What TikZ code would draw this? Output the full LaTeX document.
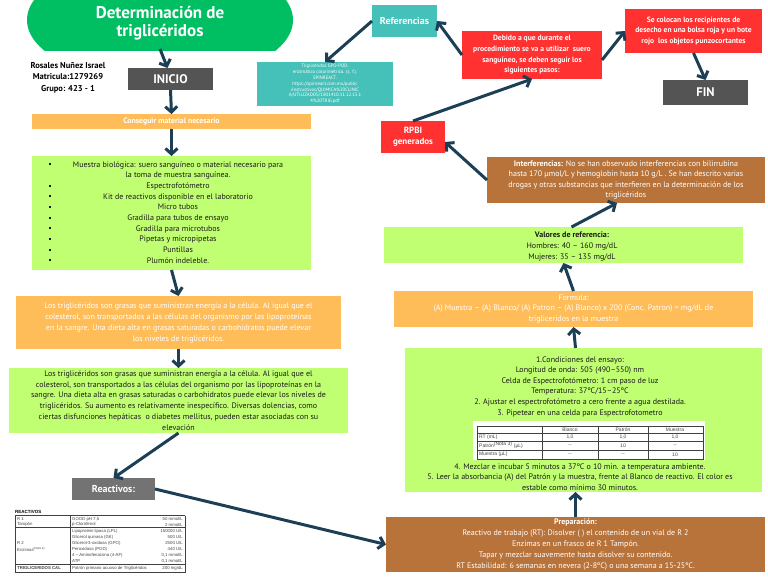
\documentclass[tikz,border=0pt]{standalone}
\usepackage{fontspec}
\setmainfont{PT Sans}
\newfontfamily\tabfont{Liberation Sans}
\usetikzlibrary{arrows.meta,calc}
\definecolor{tgreen}{HTML}{00BF63}
\definecolor{torange}{HTML}{FFBD59}
\definecolor{tlime}{HTML}{C1FF72}
\definecolor{tred}{HTML}{FF3131}
\definecolor{tcyan}{HTML}{45C1B9}
\definecolor{tbrown}{HTML}{B8733A}
\definecolor{tdark}{HTML}{545454}
\definecolor{tgray}{HTML}{737373}
\definecolor{tarrow}{HTML}{1C3F55}
\definecolor{ttext}{HTML}{1A1A1A}
\definecolor{tabtext}{HTML}{444444}
\newcommand\tbul{\raisebox{1.8pt}{\rule{2pt}{2pt}}}
\begin{document}
\begin{tikzpicture}[x=1pt,y=-1pt,
  box/.style={rectangle, inner sep=0pt, outer sep=0pt, align=center},
  arr/.style={draw=tarrow, line width=3pt, -{Straight Barb[length=5.5pt,width=12pt]}},
  wtxt/.style={text=white},
  dtxt/.style={text=ttext},
  tabtxt/.style={font=\tabfont\fontsize{4.3}{5}\selectfont, text=tabtext, inner sep=0pt},
  ptab/.style={font=\tabfont\fontsize{5}{6}\selectfont, text=tabtext, inner sep=0pt},
  tline/.style={draw=black!75, line width=0.4pt}]
\useasboundingbox (0,0) rectangle (768,576);
\fill[white] (0,0) rectangle (768,576);

% title
\begin{scope}
\clip (0,0) rectangle (768,50);
\fill[tgreen] (160,20) ellipse [x radius=133pt, y radius=62pt];
\end{scope}
\node[wtxt, font=\fontsize{17}{17.5}\selectfont\bfseries, align=center] (title) at (160,23) {Determinación de\\triglicéridos};
\coordinate (tbot) at (160,49);

\node[font=\fontsize{8.5}{11.5}\selectfont\bfseries, align=center, text=black] (name) at (68,77.5) {Rosales Nuñez Israel\\Matricula:1279269\\Grupo: 423 - 1};

% left column
\node[box, fill=tdark, minimum width=85pt, minimum height=22pt, wtxt, font=\fontsize{12.5}{14}\selectfont\bfseries] (inicio) at (170.5,79) {INICIO};
\node[box, fill=torange, minimum width=279pt, minimum height=15pt, wtxt, font=\fontsize{7.8}{9}\selectfont\bfseries] (conseguir) at (171.5,121.5) {Conseguir material necesario};

\node[box, fill=tlime, minimum width=279pt, minimum height=114pt] (list) at (171.5,213) {};
\node[dtxt, font=\fontsize{8}{10.65}\selectfont, align=center, inner sep=0pt] (listtext) at (178,213) {\strut Muestra biológica: suero sanguíneo o material necesario para\\la toma de muestra sanguínea.\\Espectrofotómetro\\Kit de reactivos disponible en el laboratorio\\Micro tubos\\Gradilla para tubos de ensayo\\Gradilla para microtubos\\Pipetas y micropipetas\\Puntillas\\Plumón indeleble.\strut};
\node[dtxt, font=\fontsize{8}{10.65}\selectfont, align=center, inner sep=0pt] (bul) at (50,213) {\strut\tbul\\~\\\tbul\\\tbul\\\tbul\\\tbul\\\tbul\\\tbul\\\tbul\\\tbul\strut};

\node[box, fill=torange, minimum width=325pt, minimum height=53pt, wtxt, font=\fontsize{8}{11}\selectfont] (orange2) at (178.5,322.5) {Los triglicéridos son grasas que suministran energía a la célula. Al igual que el\\colesterol, son transportados a las células del organismo por las lipoproteínas\\en la sangre. Una dieta alta en grasas saturadas o carbohidratos puede elevar\\los niveles de triglicéridos.};

\node[box, fill=tlime, minimum width=339pt, minimum height=65pt, dtxt, font=\fontsize{8}{10.8}\selectfont] (green2) at (178.5,400.5) {Los triglicéridos son grasas que suministran energía a la célula. Al igual que el\\colesterol, son transportados a las células del organismo por las lipoproteínas en la\\sangre. Una dieta alta en grasas saturadas o carbohidratos puede elevar los niveles de\\triglicéridos. Su aumento es relativamente inespecífico. Diversas dolencias, como\\ciertas disfunciones hepáticas\ \ o diabetes mellitus, pueden estar asociadas con su\\elevación};

\node[box, fill=tgray, minimum width=83pt, minimum height=22pt, wtxt, font=\fontsize{10}{12}\selectfont\bfseries] (reactivos) at (113.5,489) {Reactivos:};

% reactivos table
\node[tabtxt, anchor=west, font=\tabfont\bfseries\fontsize{4.5}{5}\selectfont, text=black] (rhead) at (15,512) {REACTIVOS};
\draw[tline, line width=0.8pt] (15,515.5) -- (185,515.5);
\draw[tline] (15,527.5) -- (185,527.5);
\draw[tline, line width=0.8pt] (15,564.5) -- (185,564.5);
\draw[tline] (15,572.5) -- (185,572.5);
\draw[tline] (15,515.5) -- (15,572.5);
\draw[tline] (70,515.5) -- (70,572.5);
\draw[tline] (185,515.5) -- (185,572.5);
\node[tabtxt, anchor=west] (r1a) at (17,519) {R 1};
\node[tabtxt, anchor=west] (r1b) at (17,524.5) {Tampón};
\node[tabtxt, anchor=west] (r1c) at (72,519) {GOOD pH 7,5};
\node[tabtxt, anchor=west] (r1d) at (72,524.5) {p-Clorofenol};
\node[tabtxt, anchor=east] (r1e) at (183,519) {50 mmol/L};
\node[tabtxt, anchor=east] (r1f) at (183,524.5) {2 mmol/L};
\node[tabtxt, anchor=west] (r2a) at (17,543) {R 2};
\node[tabtxt, anchor=west] (r2b) at (17,549) {Enzimas\textsuperscript{(Nota 2)}};
\foreach \i/\y/\a/\b in {1/531/{Lipoprotein lipasa (LPL)}/{150000 U/L},
  2/537/{Glicerol quinasa (GK)}/{500 U/L},
  3/543/{Glicerol-3-oxidasa (GPO)}/{2500 U/L},
  4/549/{Peroxidasa (POD)}/{440 U/L},
  5/555/{4 – Aminofenazona (4-AF)}/{0,1 mmol/L},
  6/561/{ATP}/{0,1 mmol/L}}{
  \node[tabtxt, anchor=west] (ra\i) at (72,\y) {\a};
  \node[tabtxt, anchor=east] (rb\i) at (183,\y) {\b};
}
\node[tabtxt, anchor=west, font=\tabfont\bfseries\fontsize{4.3}{5}\selectfont] (r3a) at (17,568.5) {TRIGLICERIDOS CAL};
\node[tabtxt, anchor=west] (r3b) at (72,568.5) {Patrón primario acuoso de Triglicéridos};
\node[tabtxt, anchor=east] (r3c) at (183,568.5) {200 mg/dL};

% top right
\node[box, fill=tcyan, minimum width=65pt, minimum height=32pt, wtxt, font=\fontsize{10}{12}\selectfont\bfseries] (referencias) at (404.5,21) {Referencias};
\node[box, fill=tcyan, minimum width=136pt, minimum height=44pt, wtxt, font=\fontsize{4.8}{5.8}\selectfont] (cite) at (325,84) {Triglicéridos GPO-POD.\\enzimático colorimétrico. (s. f.).\\SPINREACT.\\https://spinreact.com.mx/public\\/instructivos/QUIMICA\%20CLINIC\\A/UTILIZADOS/1801410.11.12.13.1\\4\%20TRIG.pdf};
\node[box, fill=tred, minimum width=140pt, minimum height=48pt, wtxt, font=\fontsize{7.6}{10.7}\selectfont\bfseries] (debido) at (532,55) {Debido a que durante el\\procedimiento se va a utilizar\ \ suero\\sanguíneo, se deben seguir los\\siguientes pasos:};
\node[box, fill=tred, minimum width=137pt, minimum height=44pt, wtxt, font=\fontsize{7.6}{10.7}\selectfont\bfseries] (secolocan) at (693.5,31) {Se colocan los recipientes de\\desecho en una bolsa roja y un bote\\rojo\ \ los objetos punzocortantes};
\node[box, fill=tdark, minimum width=85pt, minimum height=25pt, wtxt, font=\fontsize{12.5}{14}\selectfont\bfseries] (fin) at (705.5,92.5) {FIN};
\node[box, fill=tred, minimum width=64pt, minimum height=32pt, wtxt, font=\fontsize{9}{11}\selectfont\bfseries] (rpbi) at (413,137) {RPBI\\generados};

\node[box, fill=tbrown, minimum width=278pt, minimum height=46pt, wtxt, font=\fontsize{8}{10.5}\selectfont] (interf) at (626,180) {\textbf{Interferencias:} No se han observado interferencias con bilirrubina\\hasta 170 µmol/L y hemoglobin hasta 10 g/L . Se han descrito varias\\drogas y otras substancias que interfieren en la determinación de los\\triglicéridos};

\node[box, fill=tlime, minimum width=359pt, minimum height=36pt] (valores) at (563.5,245) {};
\node[dtxt, font=\fontsize{8}{11}\selectfont, align=center, inner sep=0pt] (valtext) at (572,246) {\textbf{Valores de referencia:}\\Hombres: 40 – 160 mg/dL\\Mujeres: 35 – 135 mg/dL};

\node[box, fill=torange, minimum width=359pt, minimum height=36pt, wtxt, font=\fontsize{8}{10.5}\selectfont] (formula) at (573.5,309) {Formula:\\(A) Muestra – (A) Blanco/ (A) Patron – (A) Blanco) x 200 (Conc. Patron) = mg/dL de\\trigliceridos en la muestra};

\node[box, fill=tlime, minimum width=357pt, minimum height=144pt] (cond) at (583.5,420) {};
\node[dtxt, font=\fontsize{8}{10.6}\selectfont, align=center, inner sep=0pt] (condA) at (580,386.5) {1.Condiciones del ensayo:\\Longitud de onda: 505 (490–550) nm\\Celda de Espectrofotómetro: 1 cm paso de luz\\Temperatura: 37ºC/15–25ºC\\2. Ajustar el espectrofotómetro a cero frente a agua destilada.\\3. Pipetear en una celda para Espectrofotometro};
\node[dtxt, font=\fontsize{8}{10.8}\selectfont, align=center, inner sep=0pt] (condB) at (580,477) {4. Mezclar e incubar 5 minutos a 37ºC o 10 min. a temperatura ambiente.\\5. Leer la absorbancia (A) del Patrón y la muestra, frente al Blanco de reactivo. El color es\\estable como mínimo 30 minutos.};

% pipette table
\fill[white] (473,421) rectangle (705,460);
\draw[tline] (477,426) rectangle (703,459);
\draw[tline] (477,433) -- (703,433);
\draw[tline] (477,441) -- (703,441);
\draw[tline, line width=0.8pt] (477,450) -- (703,450);
\draw[tline] (542,426) -- (542,459);
\draw[tline] (598,426) -- (598,459);
\draw[tline] (648,426) -- (648,459);
\node[ptab] (ph1) at (570,429.5) {Blanco};
\node[ptab] (ph2) at (623,429.5) {Patrón};
\node[ptab] (ph3) at (675,429.5) {Muestra};
\node[ptab, anchor=west] (pr1) at (479,437) {RT (mL)};
\node[ptab] (pr1a) at (570,437) {1,0};
\node[ptab] (pr1b) at (623,437) {1,0};
\node[ptab] (pr1c) at (675,437) {1,0};
\node[ptab, anchor=west] (pr2) at (479,445.5) {Patrón\textsuperscript{(Nota 3)} (µL)};
\node[ptab] (pr2a) at (570,445.5) {--};
\node[ptab] (pr2b) at (623,445.5) {10};
\node[ptab] (pr2c) at (675,445.5) {--};
\node[ptab, anchor=west] (pr3) at (479,454.5) {Muestra (µL)};
\node[ptab] (pr3a) at (570,454.5) {--};
\node[ptab] (pr3b) at (623,454.5) {--};
\node[ptab] (pr3c) at (675,454.5) {10};

\node[box, fill=tbrown, minimum width=379pt, minimum height=55pt, wtxt, font=\fontsize{8}{11.2}\selectfont] (prep) at (575.5,544.5) {\textbf{Preparación:}\\Reactivo de trabajo (RT): Disolver ( ) el contenido de un vial de R 2\\Enzimas en un frasco de R 1 Tampón.\\Tapar y mezclar suavemente hasta disolver su contenido.\\RT Estabilidad: 6 semanas en nevera (2-8ºC) o una semana a 15-25ºC.};

% connectors
\draw[arr] (tbot) -- ([xshift=-3pt]inicio.north);
\draw[arr] (inicio.south) -- (conseguir.north);
\draw[arr] (conseguir.south) -- (list.north);
\draw[arr] (list.south) -- (orange2.north);
\draw[arr] (orange2.south) -- (green2.north);
\draw[arr] (green2.south) -- (reactivos.north);
\draw[arr] (reactivos.east) -- (prep.west);
\draw[arr] (prep.north) -- (prep.north |- cond.south);
\draw[arr] ([xshift=-8pt]cond.north) -- (formula.south);
\draw[arr] (formula.north) -- (valores.south);
\draw[arr] ([xshift=8pt]valores.north) -- ([xshift=-9pt]interf.south);
\draw[arr] (interf.west) -- ([yshift=-5pt]rpbi.east);
\draw[arr] (rpbi.north) -- (debido.south);
\draw[arr] (debido.west) -- (referencias.east);
\draw[arr] (referencias.west) -- (cite.north);
\draw[arr] ([yshift=-5pt]debido.east) -- (secolocan.west);
\draw[arr] (secolocan.south) -- (fin.north);
\end{tikzpicture}
\end{document}
